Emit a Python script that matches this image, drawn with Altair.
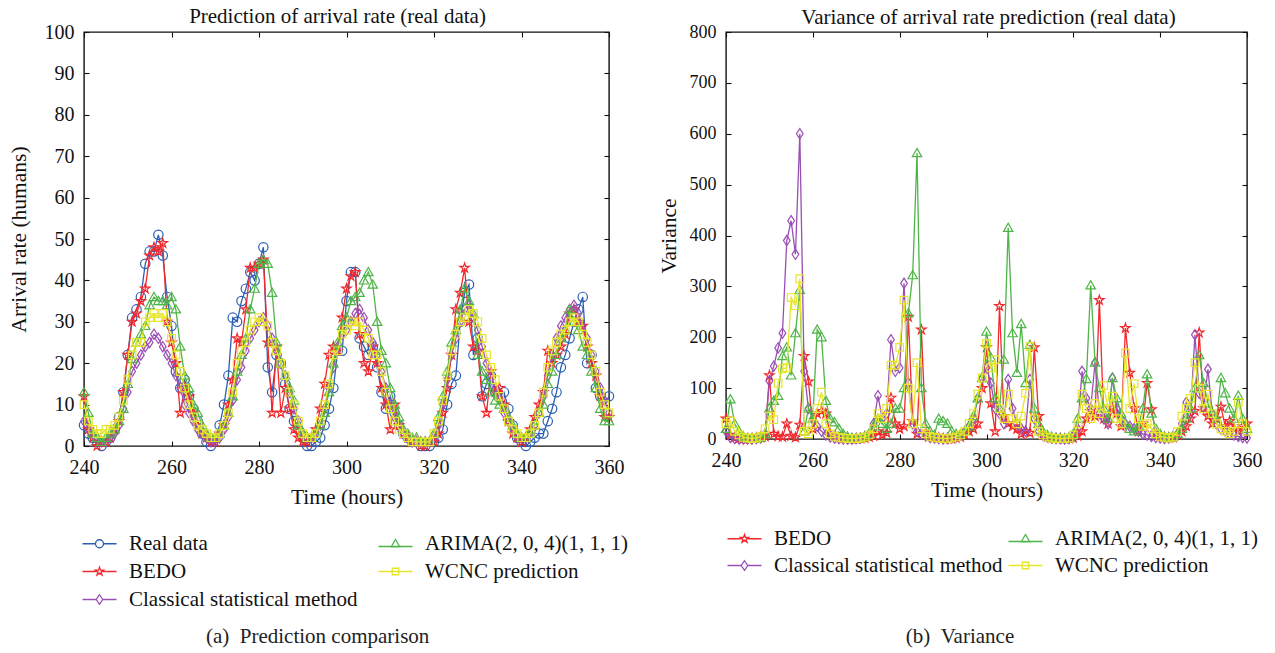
import altair as alt
import pandas as pd

hours = list(range(240, 361))

# ---------------- (a) arrival rate ----------------
real_data = [5, 3, 2, 1, 0, 1, 2, 4, 7, 13,
             22, 31, 33, 36, 44, 47, 47, 51, 46, 36,
             29, 18, 14, 16, 12, 9, 6, 3, 1, 0,
             2, 5, 10, 17, 31, 30, 35, 38, 42, 40,
             44, 48, 19, 13, 22, 20, 15, 9, 6, 4,
             2, 0, 0, 1, 2, 5, 9, 14, 23, 23,
             35, 42, 42, 26, 24, 22, 24, 19, 13, 9,
             12, 8, 5, 3, 2, 1, 1, 0, 0, 0,
             1, 2, 4, 10, 15, 17, 30, 37, 39, 22,
             26, 12, 15, 17, 13, 12, 13, 9, 5, 2,
             1, 0, 1, 2, 3, 3, 6, 9, 13, 19,
             22, 26, 30, 33, 36, 20, 22, 14, 12, 10,
             12]
bedo = [12, 4, 2, 0, 1, 1, 2, 4, 6, 13,
        22, 30, 32, 35, 38, 46, 48, 47, 49, 30,
        25, 20, 8, 14, 12, 8, 5, 3, 2, 1,
        1, 3, 5, 10, 16, 26, 25, 33, 43, 43,
        44, 45, 25, 8, 24, 8, 14, 9, 4, 2,
        1, 1, 2, 4, 9, 15, 22, 24, 23, 31,
        38, 41, 42, 27, 20, 18, 24, 20, 14, 10,
        4, 10, 5, 3, 2, 1, 1, 0, 0, 1,
        1, 3, 8, 14, 22, 33, 37, 43, 30, 24,
        23, 12, 8, 18, 13, 14, 10, 6, 3, 2,
        1, 2, 4, 7, 10, 13, 23, 20, 22, 24,
        27, 32, 33, 30, 29, 24, 20, 17, 12, 7,
        7]
classical = [6, 4, 3, 2, 1, 1, 2, 3, 5, 9,
             13, 18, 20, 22, 24, 25, 27, 26, 24, 22,
             20, 17, 14, 10, 8, 6, 4, 3, 2, 1,
             1, 2, 4, 7, 11, 16, 19, 23, 26, 28,
             30, 31, 29, 26, 23, 20, 17, 13, 9, 6,
             3, 2, 2, 3, 5, 9, 14, 19, 24, 27,
             28, 30, 32, 33, 31, 28, 25, 22, 18, 14,
             10, 7, 5, 3, 2, 1, 1, 1, 1, 1,
             2, 5, 10, 16, 22, 26, 30, 33, 34, 31,
             28, 24, 20, 17, 14, 11, 8, 6, 4, 2,
             2, 2, 3, 5, 8, 12, 17, 22, 26, 29,
             31, 33, 34, 32, 29, 26, 22, 18, 14, 11,
             8]
arima = [13, 8, 3, 2, 1, 2, 3, 4, 6, 9,
         15, 21, 25, 27, 29, 34, 36, 35, 35, 34,
         36, 33, 24, 17, 14, 10, 8, 5, 3, 2,
         2, 3, 5, 8, 12, 18, 22, 26, 33, 38,
         44, 45, 44, 37, 25, 20, 17, 14, 11, 5,
         3, 2, 2, 3, 5, 8, 13, 20, 25, 29,
         31, 35, 36, 37, 40, 42, 39, 30, 23, 20,
         14, 10, 7, 4, 3, 2, 2, 1, 1, 1,
         3, 7, 12, 18, 25, 28, 33, 38, 35, 32,
         22, 18, 16, 13, 11, 10, 9, 7, 5, 3,
         2, 2, 3, 5, 8, 10, 15, 18, 22, 26,
         28, 33, 30, 28, 24, 22, 18, 14, 9, 6,
         6]
wcnc = [10, 6, 4, 3, 3, 4, 4, 5, 7, 11,
        16, 22, 25, 25, 30, 31, 32, 31, 32, 30,
        26, 22, 18, 14, 10, 7, 5, 4, 3, 2,
        2, 3, 5, 8, 13, 20, 23, 25, 28, 30,
        31, 30, 29, 25, 23, 20, 17, 13, 10, 6,
        3, 2, 2, 3, 6, 10, 15, 22, 23, 27,
        28, 30, 29, 30, 28, 26, 22, 22, 18, 13,
        9, 6, 4, 3, 2, 1, 1, 1, 1, 1,
        3, 6, 11, 17, 23, 27, 30, 31, 33, 32,
        30, 26, 22, 19, 16, 12, 9, 6, 4, 3,
        2, 2, 3, 5, 8, 13, 19, 23, 25, 27,
        28, 30, 31, 30, 27, 25, 22, 18, 13, 10,
        8]

# ---------------- (b) variance ----------------
var_bedo = [40, 8, 3, 1, 0, 0, 1, 2, 3, 5,
            125, 10, 5, 4, 30, 6, 3, 28, 163, 113,
            20, 50, 55, 50, 10, 5, 2, 1, 1, 0,
            0, 1, 2, 4, 6, 15, 8, 12, 81, 30,
            20, 25, 240, 35, 10, 215, 12, 6, 3, 2,
            1, 1, 0, 2, 4, 8, 15, 20, 30, 100,
            180, 70, 15, 261, 45, 30, 25, 20, 10, 15,
            12, 180, 45, 8, 4, 2, 1, 1, 0, 1,
            2, 6, 15, 40, 55, 45, 273, 40, 30, 60,
            50, 25, 218, 130, 60, 15, 30, 110, 58, 12,
            5, 3, 2, 3, 8, 15, 25, 40, 55, 209,
            60, 45, 30, 40, 63, 25, 35, 20, 15, 25,
            30]
var_classical = [15, 3, 1, 0, 0, 0, 0, 1, 2, 10,
                 114, 143, 179, 208, 390, 429, 363, 600, 133, 60,
                 40, 25, 15, 8, 4, 2, 1, 0, 0, 0,
                 1, 2, 5, 10, 30, 85, 40, 50, 195, 133,
                 140, 306, 110, 30, 15, 10, 6, 3, 2, 1,
                 0, 1, 2, 4, 8, 15, 25, 40, 80, 120,
                 140, 110, 60, 50, 30, 117, 60, 30, 20, 15,
                 117, 40, 15, 8, 4, 2, 1, 1, 0, 1,
                 5, 20, 133, 80, 60, 150, 50, 40, 30, 120,
                 60, 40, 30, 25, 20, 15, 10, 8, 5, 3,
                 2, 1, 2, 5, 10, 30, 72, 50, 205, 90,
                 60, 137, 50, 30, 20, 15, 10, 8, 5, 3,
                 2]
var_arima = [20, 78, 30, 15, 5, 2, 1, 1, 3, 10,
             60, 75, 85, 163, 180, 125, 208, 293, 15, 60,
             40, 215, 200, 75, 40, 33, 20, 10, 5, 2,
             1, 2, 5, 10, 25, 40, 30, 20, 30, 60,
             60, 100, 247, 322, 562, 100, 30, 15, 8, 40,
             35, 30, 15, 10, 8, 15, 25, 45, 80, 120,
             211, 160, 80, 60, 156, 415, 208, 130, 226, 110,
             185, 60, 30, 15, 8, 4, 2, 1, 1, 2,
             10, 40, 80, 118, 302, 150, 100, 60, 40, 120,
             80, 50, 30, 20, 15, 25, 60, 127, 50, 20,
             10, 5, 3, 5, 10, 20, 40, 60, 100, 165,
             110, 70, 50, 40, 120, 90, 60, 40, 85, 40,
             20]
var_wcnc = [30, 35, 15, 8, 3, 2, 1, 2, 5, 20,
            45, 38, 110, 138, 140, 278, 262, 315, 15, 10,
            30, 60, 92, 30, 10, 5, 3, 2, 1, 1,
            1, 2, 4, 8, 20, 50, 40, 60, 145, 145,
            180, 273, 100, 30, 150, 20, 10, 5, 3, 2,
            1, 1, 2, 4, 8, 15, 30, 50, 88, 120,
            188, 140, 156, 60, 40, 88, 40, 30, 45, 90,
            182, 40, 15, 8, 4, 2, 1, 1, 1, 2,
            8, 30, 88, 60, 40, 70, 50, 105, 60, 84,
            40, 30, 169, 60, 109, 40, 25, 30, 20, 10,
            5, 3, 2, 4, 15, 45, 60, 80, 150, 100,
            60, 88, 50, 30, 20, 15, 10, 15, 72, 30,
            15]

NAMES = ["Real data", "BEDO", "Classical statistical method",
         "ARIMA(2, 0, 4)(1, 1, 1)", "WCNC prediction"]

# ---------------- styles ----------------
FONT = "Liberation Serif"
COLORS = {"Real data": "#2b5fb4", "BEDO": "#f2282c",
          "Classical statistical method": "#9b4fb5",
          "ARIMA(2, 0, 4)(1, 1, 1)": "#4fb548",
          "WCNC prediction": "#e6e62a"}
STAR = ("M0,-1.1L0.247,-0.34L1.046,-0.34L0.4,0.13L0.647,0.89L0,0.42"
        "L-0.647,0.89L-0.4,0.13L-1.046,-0.34L-0.247,-0.34Z")
MARKERS = {"Real data": "M1.05,0A1.05,1.05 0 1,1 -1.05,0A1.05,1.05 0 1,1 1.05,0Z",
           "BEDO": STAR,
           "Classical statistical method": "M0,-1.15L0.75,0L0,1.15L-0.75,0Z",
           "ARIMA(2, 0, 4)(1, 1, 1)": "M0,-1.05L1.05,0.8L-1.05,0.8Z",
           "WCNC prediction": "M-0.85,-0.85L0.85,-0.85L0.85,0.85L-0.85,0.85Z"}
LSTAR = ("M0,-0.85L0.19,-0.26L0.81,-0.26L0.31,0.1L0.5,0.69L0,0.33"
         "L-0.5,0.69L-0.31,0.1L-0.81,-0.26L-0.19,-0.26Z")
LEG_MARKERS = {
    "Real data": "M-3.4,0L-0.8,0M0.8,0L3.4,0M0.8,0A0.8,0.8 0 1,1 -0.8,0A0.8,0.8 0 1,1 0.8,0Z",
    "BEDO": "M-3.4,0L-0.55,0M0.55,0L3.4,0" + LSTAR,
    "Classical statistical method": "M-3.4,0L-0.65,0M0.65,0L3.4,0M0,-0.95L0.65,0L0,0.95L-0.65,0Z",
    "ARIMA(2, 0, 4)(1, 1, 1)": "M-3.4,0.55L3.4,0.55M0,-0.85L0.85,0.6L-0.85,0.6Z",
    "WCNC prediction": "M-3.4,0L3.4,0M-0.65,-0.65L0.65,-0.65L0.65,0.65L-0.65,0.65Z"}


def long_frame(series):
    rows = []
    for name, vals in series:
        assert len(vals) == len(hours), name
        for h, v in zip(hours, vals):
            rows.append({"hour": h, "value": v, "series": name})
    return pd.DataFrame(rows)


def panel(df, names, ymax, ystep, width, height, ytitle, title, title_dx,
          ylabel_size, ytitle_pad, legend_x, legend_y, col_pad, row_pad):
    xs = alt.Scale(domain=[240, 360], nice=False, zero=False)
    ys = alt.Scale(domain=[0, ymax], nice=False)
    xvals = list(range(240, 361, 20))
    yvals = list(range(0, ymax + 1, ystep))
    # main axes: ticks pointing into the plot (offset pulls the axis inside)
    x_main = alt.X("hour:Q", scale=xs, axis=alt.Axis(
        values=xvals, title="Time (hours)", labelFlush=False, offset=-5, domain=False,
        labelPadding=11, titlePadding=9, labelFontSize=20))
    y_main = alt.Y("value:Q", scale=ys, axis=alt.Axis(
        values=yvals, title=ytitle, labelFlush=False, offset=-5, domain=False,
        labelPadding=10, titlePadding=ytitle_pad, labelFontSize=ylabel_size))
    x_plain = alt.X("hour:Q", scale=xs, axis=None)
    y_plain = alt.Y("value:Q", scale=ys, axis=None)
    x_top = alt.X("hour:Q", scale=xs, axis=alt.Axis(
        orient="top", values=xvals, title=None, labels=False, offset=-5, domain=False))
    y_right = alt.Y("value:Q", scale=ys, axis=alt.Axis(
        orient="right", values=yvals, title=None, labels=False, offset=-5, domain=False))

    layers = []
    for i, name in enumerate(names):
        base = alt.Chart(df).transform_filter(alt.datum.series == name)
        xe, ye = (x_main, y_main) if i == 0 else (x_plain, y_plain)
        layers.append(base.mark_line(color=COLORS[name], strokeWidth=1.3).encode(x=xe, y=ye))
        layers.append(base.mark_point(shape=MARKERS[name], color=COLORS[name], filled=False,
                                      size=80, strokeWidth=1.2, opacity=1).encode(
            x=x_plain, y=y_plain))
    order = list(names)
    leg = alt.Legend(title=None, orient="none", legendX=legend_x, legendY=legend_y,
                     columns=2, direction="vertical", symbolSize=100, symbolStrokeWidth=1.3,
                     labelFont=FONT, labelFontSize=21, labelColor="#111",
                     columnPadding=col_pad, rowPadding=row_pad, symbolOffset=12,
                     labelOffset=19, labelLimit=400)
    legend_layer = alt.Chart(df).transform_filter("false").mark_point(
        filled=False, strokeWidth=1.3, opacity=1).encode(
        x=x_top, y=y_right,
        color=alt.Color("series:N", scale=alt.Scale(domain=order,
                        range=[COLORS[n] for n in order]), legend=leg),
        shape=alt.Shape("series:N", scale=alt.Scale(domain=order,
                        range=[LEG_MARKERS[n] for n in order]), legend=leg))
    layers.append(legend_layer)
    return alt.layer(*layers).resolve_axis(x="independent", y="independent").properties(
        width=width, height=height,
        title=alt.TitleParams(title, font=FONT, fontSize=21, fontWeight="normal",
                              color="#111", offset=-5, dx=title_dx))


df_a = long_frame(list(zip(NAMES, [real_data, bedo, classical, arima, wcnc])))
df_b = long_frame(list(zip(NAMES[1:], [var_bedo, var_classical, var_arima, var_wcnc])))

left = panel(df_a, NAMES, 100, 10, 525, 414, "Arrival rate (humans)",
             "Prediction of arrival rate (real data)", -9,
             20, 14, -7, 501, 15, 6)
right = panel(df_b, NAMES[1:], 800, 100, 521, 407, "Variance",
              "Variance of arrival rate prediction (real data)", 2,
              18, 9, -4, 496, 0, 5)

cap_a = alt.vconcat(left, title=alt.TitleParams("(a)\u2002Prediction comparison", orient="bottom",
                                                 anchor="middle", font=FONT, fontSize=21,
                                                 fontWeight="normal", color="#222", offset=16))
cap_b = alt.vconcat(right, title=alt.TitleParams("(b)\u2002Variance", orient="bottom",
                                                  anchor="middle", font=FONT, fontSize=21,
                                                  fontWeight="normal", color="#222", offset=50))

chart = alt.hconcat(cap_a, cap_b, spacing=29).resolve_scale(
    color="independent", shape="independent"
).resolve_legend(
    color="independent", shape="independent"
).properties(
    padding={"left": 7, "top": 5, "right": 5, "bottom": 5}
).configure_view(
    stroke="#111", strokeWidth=1.4
).configure_axis(
    labelFont=FONT, labelColor="#111",
    titleFont=FONT, titleFontSize=21.5, titleFontWeight="normal", titleColor="#111",
    tickColor="#111", tickSize=5, tickWidth=1.1, grid=False
)

chart.save("out.html", embed_options={"renderer": "svg", "actions": False})
